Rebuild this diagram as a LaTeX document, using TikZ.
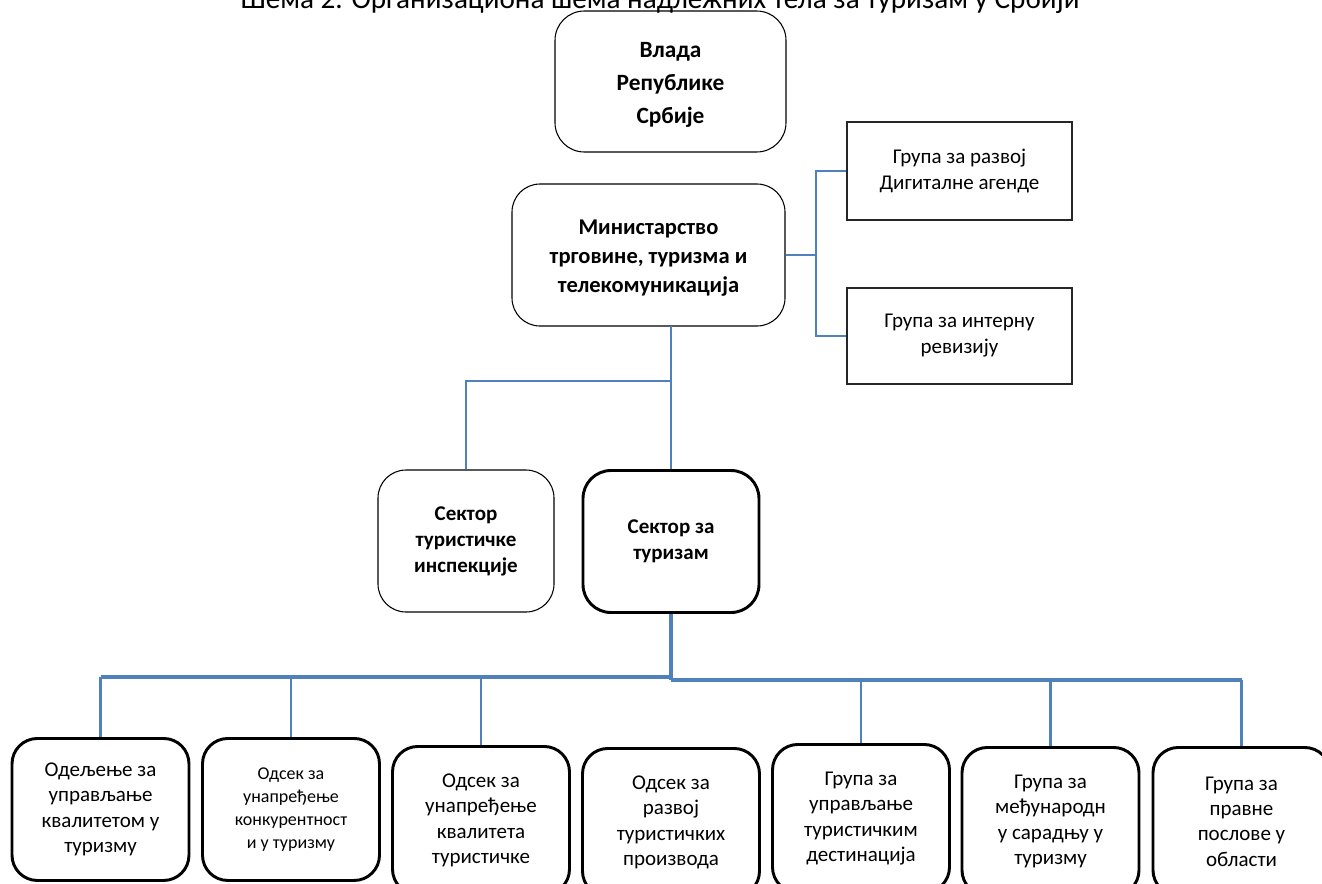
\documentclass[tikz,border=0pt]{standalone}
\usepackage{fontspec}
\setmainfont{Carlito}
\definecolor{connblue}{RGB}{79,129,189}
\def\PX{0.75pt}
\begin{document}
\begin{tikzpicture}[x=0.75pt,y=-0.75pt,
  conn/.style={draw=connblue,line width=1.7pt},
  connthick/.style={draw=connblue,line width=2.3pt},
  thinbox/.style={draw=black,line width=0.8pt,align=center,inner sep=0pt},
  boldbox/.style={draw=black,line width=2.2pt,align=center,inner sep=0pt},
  rectbox/.style={draw=black!85,line width=1pt,align=center,inner sep=0pt,
    minimum width=225*\PX,font=\fontsize{15.75}{19.5}\selectfont},
  lowbox/.style={boldbox,rounded corners=19pt,minimum width=177*\PX,anchor=north,
    font=\fontsize{15.75}{19}\selectfont},
  secbox/.style={rounded corners=21pt,minimum width=176*\PX,minimum height=142*\PX,
    font=\fontsize{15.75}{19.5}\selectfont\bfseries}
]
\useasboundingbox (0,0) rectangle (1322,883);
\clip (0,0) rectangle (1322,883);

% title
\node[anchor=base,font=\fontsize{21.9}{24}\selectfont,inner sep=0pt] (title) at (660,8)
  {Шема 2. Организациона шема надлежних тела за туризам у Србији};

% top boxes
\node[thinbox,rounded corners=22pt,minimum width=231*\PX,minimum height=141*\PX,
  font=\fontsize{17.5}{24.75}\selectfont\bfseries] (vlada) at (670.5,81.5)
  {\rule{0pt}{16.5pt}Влада\\Републике\\Србије};
\node[thinbox,rounded corners=21pt,minimum width=273*\PX,minimum height=142*\PX,
  font=\fontsize{16.9}{22}\selectfont\bfseries] (min) at (648.5,255)
  {\rule{0pt}{15.4pt}Министарство\\трговине, туризма и\\телекомуникација};
\node[rectbox,minimum height=98*\PX] (g1) at (959.5,171) {Група за развој\\Дигиталне агенде};
\node[rectbox,minimum height=96*\PX] (g2) at (959.5,336) {Група за интерну\\ревизију};

\node[thinbox,secbox] (sti) at (466,541) {Сектор\\туристичке\\инспекције};
\node[boldbox,secbox] (stz) at (671,541.5) {Сектор за\\туризам};

% bottom boxes
\node[lowbox,minimum height=142*\PX] (b1) at (100.5,737) {Одељење за\\управљање\\квалитетом у\\туризму};
\node[lowbox,minimum height=142*\PX,font=\fontsize{13.5}{17.25}\selectfont] (b2) at (291,737) {Одсек за\\унапређење\\конкурентност\\и у туризму};
\node[lowbox,minimum height=148*\PX] (b3) at (481,745) {Одсек за\\унапређење\\квалитета\\туристичке};
\node[lowbox,minimum height=148*\PX] (b4) at (671,747) {Одсек за\\развој\\туристичких\\производа};
\node[lowbox,minimum height=148*\PX] (b5) at (861,743) {Група за\\управљање\\туристичким\\дестинација};
\node[lowbox,minimum height=148*\PX] (b6) at (1050.5,746) {Група за\\међународн\\у сарадњу у\\туризму};
\node[lowbox,minimum height=148*\PX] (b7) at (1241.5,746) {Група за\\правне\\послове у\\области};

% connectors: ministry to groups
\coordinate (jr) at (816,255);
\draw[conn] (min.east) -- (jr);
\draw[conn] (jr) |- (g1.west);
\draw[conn] (jr) |- (g2.west);

% ministry to sectors
\coordinate (mtop) at (671,326);
\coordinate (jm) at (671,381);
\draw[conn] (mtop) -- (stz.north);
\draw[conn] (jm) -| (sti.north);

% sector to bus
\coordinate (busl) at (100.5,677);
\coordinate (busc) at (671,677);
\coordinate (busr) at (1241.5,680);
\coordinate (busc2) at (671,680);
\draw[connthick] (stz.south) -- (busc2);
\draw[connthick] (busl) -- (busc);
\draw[connthick] (busc2) -- (busr);
\draw[conn] (b1.north) -- (b1.north |- busl);
\draw[conn] (b2.north) -- (b2.north |- busl);
\draw[conn] (b3.north) -- (b3.north |- busl);
\draw[conn] (b5.north) -- (b5.north |- busr);
\draw[conn] (b6.north) -- (b6.north |- busr);
\draw[conn] (b7.north) -- (b7.north |- busr);
\end{tikzpicture}
\end{document}
